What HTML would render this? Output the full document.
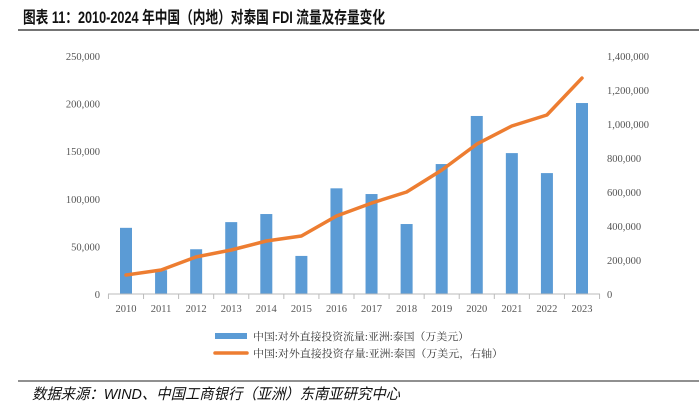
<!DOCTYPE html>
<html><head><meta charset="utf-8"><style>
body{margin:0;background:#fff;width:699px;height:404px;overflow:hidden}
svg{display:block}
</style></head><body>
<svg width="699" height="404" xmlns="http://www.w3.org/2000/svg">
<text x="23" y="23" textLength="362" lengthAdjust="spacingAndGlyphs" font-family="'Liberation Sans','Noto Sans CJK SC',sans-serif" font-size="16.5" font-weight="bold" fill="#111">图表 11：2010-2024 年中国（内地）对泰国 FDI 流量及存量变化</text>
<line x1="18" y1="30" x2="699" y2="30" stroke="#222" stroke-width="1.2"/>
<g id="plot"></g>
<g font-family="'Liberation Serif','Noto Serif CJK SC',serif" font-size="10.5" fill="#333">
<rect x="215" y="333" width="32" height="6" fill="#5b9bd5"/>
<text x="253" y="340" textLength="216" lengthAdjust="spacingAndGlyphs">中国:对外直接投资流量:亚洲:泰国（万美元）</text>
<line x1="215" y1="353" x2="247" y2="353" stroke="#ed7d31" stroke-width="3.5" stroke-linecap="round"/>
<text x="253" y="357" textLength="250" lengthAdjust="spacingAndGlyphs">中国:对外直接投资存量:亚洲:泰国（万美元，右轴）</text>
</g>
<line x1="18" y1="381" x2="699" y2="381" stroke="#222" stroke-width="1"/>
<text x="32" y="399" textLength="368" lengthAdjust="spacingAndGlyphs" font-family="'Liberation Sans','Noto Sans CJK SC',sans-serif" font-size="15" font-style="italic" fill="#111">数据来源：WIND、中国工商银行（亚洲）东南亚研究中心</text>
</svg>
<script>
const years=["2010","2011","2012","2013","2014","2015","2016","2017","2018","2019","2020","2021","2022","2023"];
const flowValues=[69500,25000,47000,75500,84000,40000,111000,105000,73500,136500,187000,148000,127000,200600];
const stockValues=[112000,141000,218000,259000,312000,341000,459000,535000,600000,729000,882000,988000,1053000,1270000];
const leftTicks=[0,50000,100000,150000,200000,250000];
const rightTicks=[0,200000,400000,600000,800000,1000000,1200000,1400000];
const NS="http://www.w3.org/2000/svg";
const g=document.getElementById('plot');
const y0=294,yTop=56;
const yL=v=>y0-(v/250000)*(y0-yTop);
const yR=v=>y0-(v/1400000)*(y0-yTop);
const x0=126,step=(582-126)/13;
const xC=i=>x0+i*step;
function mk(t,a){const e=document.createElementNS(NS,t);for(const k in a)e.setAttribute(k,a[k]);g.appendChild(e);return e;}
const font="'Liberation Serif',serif";
leftTicks.forEach(v=>{const t=mk('text',{x:100,y:yL(v)+4,'text-anchor':'end','font-family':font,'font-size':10.5,fill:'#555'});t.textContent=v.toLocaleString('en-US');

});
rightTicks.forEach(v=>{const t=mk('text',{x:607,y:yR(v)+4,'text-anchor':'start','font-family':font,'font-size':10.5,fill:'#555'});t.textContent=v.toLocaleString('en-US');

});
flowValues.forEach((v,i)=>{const r=mk('rect',{x:xC(i)-6,y:yL(v),width:12,height:y0-yL(v),fill:'#5b9bd5'});

});
const ax=mk('line',{x1:108,y1:y0,x2:600,y2:y0,stroke:'#bbb','stroke-width':1});


for(let i=0;i<=14;i++){const tk=mk('line',{x1:x0-step/2+i*step,y1:y0,x2:x0-step/2+i*step,y2:y0+5,stroke:'#bbb'});

}
years.forEach((y,i)=>{const t=mk('text',{x:xC(i),y:312,'text-anchor':'middle','font-family':font,'font-size':10.5,fill:'#555'});t.textContent=y;

});
const pts=stockValues.map((v,i)=>xC(i).toFixed(1)+','+yR(v).toFixed(1)).join(' ');
const pl=mk('polyline',{points:pts,fill:'none',stroke:'#ed7d31','stroke-width':3.5,'stroke-linejoin':'round','stroke-linecap':'round'});


</script>
</body></html>
